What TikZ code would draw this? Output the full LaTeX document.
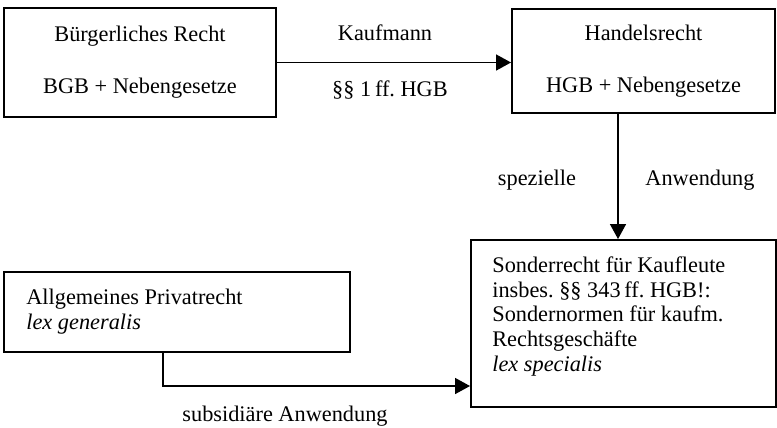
\documentclass[tikz,border=0pt]{standalone}
\usepackage{fontspec}
\setmainfont{Liberation Serif}
\usetikzlibrary{arrows.meta}
\frenchspacing
\begin{document}
\begin{tikzpicture}[font=\fontsize{12.7}{14.2}\selectfont,
  kasten/.style={draw,line width=1.1pt,inner sep=0pt},
  pfeil/.style={line width=.8pt,-{Triangle[length=.3cm,width=.32cm]}},
  txt/.style={inner sep=0pt,align=left}]
\useasboundingbox (0,0) rectangle (15.54,-8.54);
\node[kasten,minimum width=5.44cm,minimum height=2.18cm,align=center] (bgb) at (2.8,-1.25)
  {B\"urgerliches Recht\\[.54cm]BGB + Nebengesetze};
\node[kasten,minimum width=5.26cm,minimum height=2.08cm,align=center] (hgb) at (12.87,-1.22)
  {Handelsrecht\\[.54cm]HGB + Nebengesetze};
\node[kasten,minimum width=6.1cm,minimum height=3.34cm] (sonder) at (12.47,-6.47) {};
\node[kasten,minimum width=6.92cm,minimum height=1.6cm] (allg) at (3.54,-6.24) {};
\node[txt,anchor=north west] (sondertxt) at (9.84,-5.12)
  {Sonderrecht f\"ur Kaufleute\\insbes. \S\S{} 343\,ff. HGB!:\\Sondernormen f\"ur kaufm.\\Rechtsgesch\"afte\\\textit{lex specialis}};
\node[txt,anchor=north west] (allgtxt) at (.52,-5.78)
  {Allgemeines Privatrecht\\\textit{lex generalis}};
\node (kfm) at (7.7,-.66) {Kaufmann};
\node (hgbpar) at (7.8,-1.8) {\S\S{} 1\,ff. HGB};
\node (spez) at (10.74,-3.6) {spezielle};
\node (anw) at (14.0,-3.6) {Anwendung};
\node (subs) at (5.7,-8.33) {subsidi\"are Anwendung};
\draw[pfeil] (bgb.east) -- (bgb.east -| hgb.west);
\draw[pfeil] (hgb.south -| 12.36,0) -- (sonder.north -| 12.36,0);
\draw[pfeil] (allg.south -| 3.26,0) |- (sonder.west |- 0,-7.72);
\end{tikzpicture}
\end{document}
